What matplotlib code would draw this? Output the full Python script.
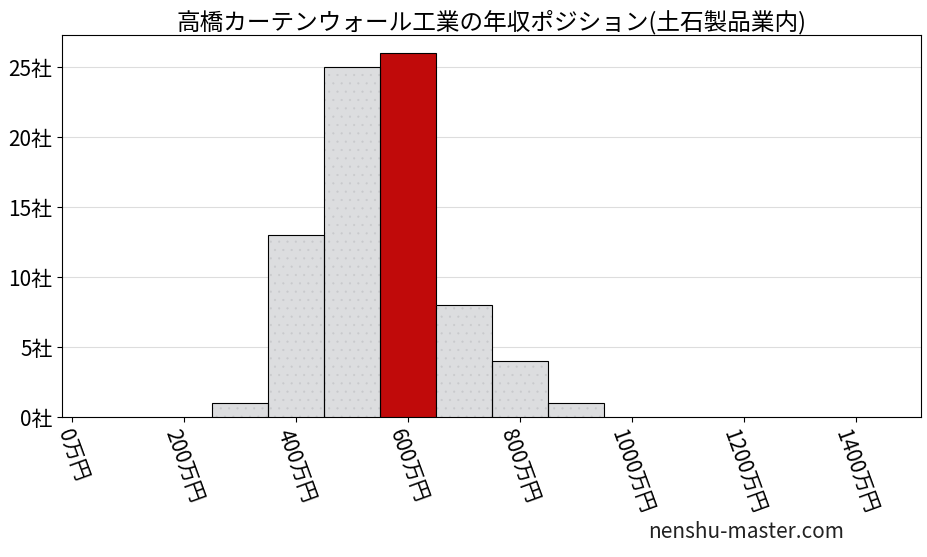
import matplotlib
matplotlib.use('Agg')
import matplotlib.pyplot as plt

plt.rcParams['font.family'] = ['Noto Sans CJK JP', 'DejaVu Sans']
plt.rcParams['hatch.linewidth'] = 0.3

# histogram bins (center, 万円) and company counts
bin_centers = [300, 400, 500, 600, 700, 800, 900]
counts = [1, 13, 25, 26, 8, 4, 1]
highlight = 600
xticks = [0, 200, 400, 600, 800, 1000, 1200, 1400]
yticks = [0, 5, 10, 15, 20, 25]
title = '高橋カーテンウォール工業の年収ポジション(土石製品業内)'

fig = plt.figure(figsize=(9.28, 5.57), dpi=100)
ax = fig.add_axes([0.067, 0.251, 0.925, 0.686])

for c, n in zip(bin_centers, counts):
    if c == highlight:
        ax.bar(c, n, width=100, color='#c00a0a', edgecolor='black', linewidth=0.8, zorder=3)
    else:
        # faint dotted fill, then a black outline on top
        ax.bar(c, n, width=100, color='#dcdddf', edgecolor='#c8c9cc', linewidth=0,
               hatch='..', zorder=3)
        ax.bar(c, n, width=100, fill=False, edgecolor='black', linewidth=0.8, zorder=4)

ax.set_xlim(-18, 1516)
ax.set_ylim(0, 27.3)
ax.set_xticks(xticks)
ax.set_xticklabels([f'{v}万円' for v in xticks], rotation=-70, ha='center', fontsize=15)
ax.set_yticks(yticks)
ax.set_yticklabels([f'{v}社' for v in yticks], fontsize=15)
ax.grid(axis='y', color='#dddddd', linewidth=0.8, zorder=0)
ax.set_axisbelow(True)
ax.set_title(title, fontsize=17, pad=4)

fig.text(0.698, 0.035, 'nenshu-master.com', fontsize=15, color='#222222')

plt.savefig('out.png', dpi=100)
plt.close(fig)
